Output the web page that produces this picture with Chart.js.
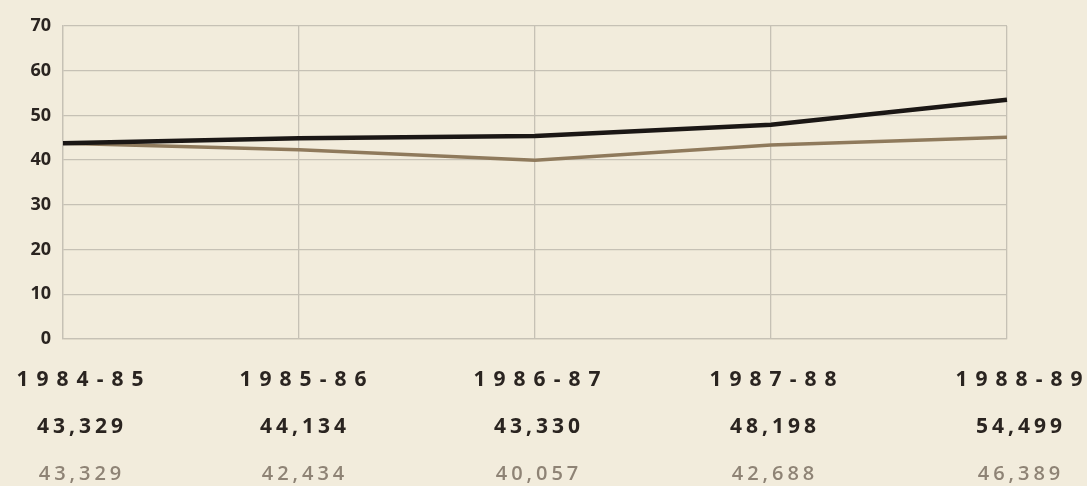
<!DOCTYPE html>
<html>
<head>
<meta charset="utf-8">
<script src="https://cdn.jsdelivr.net/npm/chart.js@4/dist/chart.umd.min.js"></script>
<style>
  html, body { margin: 0; padding: 0; background: #f2ecdc; }
  #wrap { width: 1087px; height: 486px; position: relative; }
</style>
</head>
<body>
<div id="wrap"><canvas id="c" width="1087" height="486"></canvas></div>
<script>
const categories = ['1984-85', '1985-86', '1986-87', '1987-88', '1988-89'];
const seriesBlack = [43.8, 44.9, 45.4, 47.9, 53.5];
const seriesBrown = [43.8, 42.3, 40.0, 43.4, 45.1];
const labelsBlack = ['43,329', '44,134', '43,330', '48,198', '54,499'];
const labelsBrown = ['43,329', '42,434', '40,057', '42,688', '46,389'];
const yMin = 0, yMax = 70, yStep = 10;

const bottomLabels = {
  id: 'bottomLabels',
  afterDraw(chart) {
    const ctx = chart.ctx;
    const x = chart.scales.x;
    const shift = [17, 4, 2, 2, 12];
    ctx.save();
    ctx.textAlign = 'center';
    ctx.textBaseline = 'middle';
    categories.forEach((c, i) => {
      const px = x.getPixelForValue(i) + shift[i];
      ctx.fillStyle = '#2a2420';
      ctx.font = 'bold 21px "Open Sans"';
      ctx.letterSpacing = '8px';
      ctx.fillText(c, px + 4, 380);
      ctx.font = 'bold 21px "Open Sans"';
      ctx.letterSpacing = '4px';
      ctx.fillText(labelsBlack[i], px + 2, 427);
      ctx.fillStyle = '#8e8375';
      ctx.font = '600 20px "Open Sans"';
      ctx.letterSpacing = '4px';
      ctx.fillText(labelsBrown[i], px + 2, 474);
    });
    ctx.restore();
  }
};

const gridColor = '#c6c1b5';

new Chart(document.getElementById('c'), {
  type: 'line',
  data: {
    labels: categories,
    datasets: [
      { data: seriesBlack, borderColor: '#1b1715', borderWidth: 4.5, pointRadius: 0, tension: 0, fill: false },
      { data: seriesBrown, borderColor: '#8f7a5c', borderWidth: 3.5, pointRadius: 0, tension: 0, fill: false }
    ]
  },
  options: {
    responsive: false,
    animation: false,
    events: [],
    layout: { padding: { left: 0, top: 26, right: 80, bottom: 147 } },
    plugins: { legend: { display: false }, tooltip: { enabled: false } },
    scales: {
      x: {
        offset: false,
        ticks: { display: false },
        grid: { color: gridColor, lineWidth: 1.3, drawTicks: false },
        border: { display: true, color: gridColor, width: 1.3 }
      },
      y: {
        min: yMin, max: yMax,
        ticks: { stepSize: yStep, color: '#2a2420', font: { family: 'Open Sans', weight: 'bold', size: 18 }, padding: 12 },
        grid: { color: gridColor, lineWidth: 1.3, drawTicks: false },
        border: { display: true, color: gridColor, width: 1.3 },
        afterFit(scale) { scale.width = 63; }
      }
    }
  },
  plugins: [bottomLabels]
});
</script>
</body>
</html>
